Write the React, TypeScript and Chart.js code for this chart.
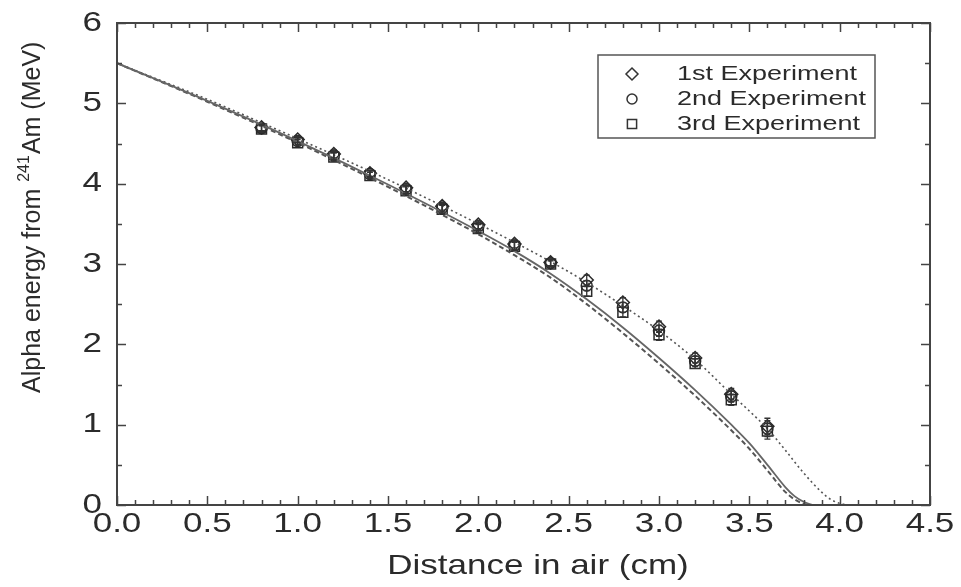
import { useEffect, useRef } from "react";
import { Chart, registerables } from "chart.js";

Chart.register(...registerables);

// ---- data ----
const distances = [0.8, 1.0, 1.2, 1.4, 1.6, 1.8, 2.0, 2.2, 2.4, 2.6, 2.8, 3.0, 3.2, 3.4, 3.6];
const exp1 = [4.70, 4.55, 4.37, 4.13, 3.95, 3.72, 3.49, 3.25, 3.02, 2.80, 2.52, 2.22, 1.83, 1.38, 0.98];
const exp2 = [4.69, 4.53, 4.35, 4.12, 3.93, 3.70, 3.47, 3.23, 3.01, 2.73, 2.46, 2.17, 1.79, 1.35, 0.95];
const exp3 = [4.68, 4.51, 4.33, 4.10, 3.91, 3.68, 3.44, 3.22, 3.00, 2.66, 2.40, 2.12, 1.76, 1.31, 0.92];
const errors = [0.04, 0.04, 0.05, 0.04, 0.05, 0.05, 0.05, 0.05, 0.04, 0.06, 0.06, 0.07, 0.06, 0.07, 0.1];

const solidX = [0, 0.5, 1.0, 1.5, 2.0, 2.2, 2.4, 2.6, 2.8, 3.0, 3.2, 3.4, 3.5, 3.6, 3.7, 3.75, 3.8, 3.85];
const solidY = [5.5, 5.03, 4.53, 3.99, 3.41, 3.16, 2.88, 2.56, 2.21, 1.83, 1.43, 1.0, 0.77, 0.5, 0.22, 0.11, 0.04, 0.0];

const dashedX = [0, 0.5, 1.0, 1.5, 2.0, 2.2, 2.4, 2.6, 2.8, 3.0, 3.2, 3.4, 3.5, 3.6, 3.7, 3.75, 3.8, 3.83];
const dashedY = [5.5, 5.02, 4.51, 3.96, 3.37, 3.11, 2.83, 2.5, 2.14, 1.76, 1.36, 0.93, 0.7, 0.43, 0.16, 0.07, 0.015, 0.0];

const dottedX = [0, 0.5, 1.0, 1.5, 2.0, 2.2, 2.4, 2.6, 2.8, 3.0, 3.2, 3.4, 3.5, 3.6, 3.7, 3.8, 3.9, 3.95, 4.0, 4.04];
const dottedY = [5.5, 5.05, 4.56, 4.05, 3.5, 3.27, 3.03, 2.77, 2.48, 2.17, 1.81, 1.38, 1.17, 0.95, 0.68, 0.4, 0.16, 0.07, 0.02, 0.0];

const xLabelValues = [0, 0.5, 1.0, 1.5, 2.0, 2.5, 3.0, 3.5, 4.0, 4.5];
const yLabelValues = [0, 1, 2, 3, 4, 5, 6];
const legendLabels = ["1st Experiment", "2nd Experiment", "3rd Experiment"];
const legendStyles = ["rectRot", "circle", "rect"];

const xTitle = "Distance in air (cm)";
const yTitleParts = ["Alpha energy from ", "241", "Am (MeV)"];

const toPts = (xs: number[], ys: number[]) => xs.map((x, i) => ({ x, y: ys[i] }));

const FONT = "'Liberation Sans', Arial, Helvetica, sans-serif";
const TEXT = "#2b2b2b";
const AXIS = "#444";

function stretchText(ctx: CanvasRenderingContext2D, text: string, x: number, y: number, sx: number, align: CanvasTextAlign) {
  ctx.save();
  ctx.translate(x, y);
  ctx.scale(sx, 1);
  ctx.textAlign = align;
  ctx.fillText(text, 0, 0);
  ctx.restore();
}

function drawMarker(ctx: CanvasRenderingContext2D, style: string, x: number, y: number, r: number) {
  ctx.beginPath();
  if (style === "circle") {
    ctx.arc(x, y, r, 0, Math.PI * 2);
  } else if (style === "rect") {
    const s = r * Math.SQRT1_2;
    ctx.rect(x - s, y - s, 2 * s, 2 * s);
  } else {
    ctx.moveTo(x, y - r);
    ctx.lineTo(x + r, y);
    ctx.lineTo(x, y + r);
    ctx.lineTo(x - r, y);
    ctx.closePath();
  }
  ctx.stroke();
}

const decorPlugin = {
  id: "decor",
  afterDatasetsDraw(chart: any) {
    const { ctx, chartArea } = chart;
    const xs = chart.scales.x;
    const ys = chart.scales.y;
    const { left, right, top, bottom } = chartArea;

    // error bars
    ctx.save();
    ctx.strokeStyle = "#333";
    ctx.lineWidth = 1.3;
    [exp1, exp2, exp3].forEach((series) => {
      series.forEach((v, i) => {
        const px = xs.getPixelForValue(distances[i]);
        const y1 = ys.getPixelForValue(v + errors[i]);
        const y2 = ys.getPixelForValue(v - errors[i]);
        ctx.beginPath();
        ctx.moveTo(px, y1);
        ctx.lineTo(px, y2);
        ctx.moveTo(px - 3, y1);
        ctx.lineTo(px + 3, y1);
        ctx.moveTo(px - 3, y2);
        ctx.lineTo(px + 3, y2);
        ctx.stroke();
      });
    });
    ctx.restore();

    // frame
    ctx.save();
    ctx.strokeStyle = AXIS;
    ctx.lineWidth = 2;
    ctx.strokeRect(left, top, right - left, bottom - top);

    // ticks (inward, all sides)
    ctx.lineWidth = 1.5;
    ctx.beginPath();
    xs.ticks.forEach((t: any) => {
      const v = t.value;
      const major = Math.abs(v / 0.5 - Math.round(v / 0.5)) < 1e-6;
      const len = major ? 9 : 5;
      const px = Math.round(xs.getPixelForValue(v)) + 0.5;
      ctx.moveTo(px, bottom);
      ctx.lineTo(px, bottom - len);
      ctx.moveTo(px, top);
      ctx.lineTo(px, top + len);
    });
    ys.ticks.forEach((t: any) => {
      const v = t.value;
      const major = Math.abs(v - Math.round(v)) < 1e-6;
      const len = major ? 9 : 5;
      const py = Math.round(ys.getPixelForValue(v)) + 0.5;
      ctx.moveTo(left, py);
      ctx.lineTo(left + len, py);
      ctx.moveTo(right, py);
      ctx.lineTo(right - len, py);
    });
    ctx.stroke();
    ctx.restore();

    // tick labels
    ctx.save();
    ctx.fillStyle = TEXT;
    ctx.textBaseline = "middle";
    ctx.font = `28px ${FONT}`;
    xLabelValues.forEach((v) => {
      stretchText(ctx, v.toFixed(1), xs.getPixelForValue(v), bottom + 19, 1.25, "center");
    });
    yLabelValues.forEach((v) => {
      stretchText(ctx, String(v), left - 15, ys.getPixelForValue(v), 1.25, "right");
    });

    // x title
    ctx.font = `28px ${FONT}`;
    stretchText(ctx, xTitle, 538, 566, 1.25, "center");

    // y title (rotated, with superscript)
    ctx.save();
    ctx.translate(40, 393);
    ctx.rotate(-Math.PI / 2);
    ctx.textAlign = "left";
    ctx.textBaseline = "alphabetic";
    ctx.font = `25px ${FONT}`;
    let cx = 0;
    ctx.fillText(yTitleParts[0], cx, 0);
    cx += ctx.measureText(yTitleParts[0]).width;
    ctx.font = `16px ${FONT}`;
    ctx.fillText(yTitleParts[1], cx, -11);
    cx += ctx.measureText(yTitleParts[1]).width + 1;
    ctx.font = `25px ${FONT}`;
    ctx.fillText(yTitleParts[2], cx, 0);
    ctx.restore();

    // legend
    ctx.strokeStyle = "#555";
    ctx.lineWidth = 1.5;
    ctx.strokeRect(598, 55, 277, 83);
    ctx.font = `20px ${FONT}`;
    ctx.textBaseline = "middle";
    legendLabels.forEach((lab, i) => {
      const y = 74 + i * 25;
      ctx.strokeStyle = "#333";
      ctx.lineWidth = 1.5;
      const r = legendStyles[i] === "circle" ? 5 : legendStyles[i] === "rect" ? 6.5 : 6;
      drawMarker(ctx, legendStyles[i], 632, y, r);
      stretchText(ctx, lab, 677, y, 1.35, "left");
    });
    ctx.restore();
  },
};

export default function App() {
  const canvasRef = useRef<HTMLCanvasElement | null>(null);

  useEffect(() => {
    document.body.style.margin = "0";
    const canvas = canvasRef.current;
    if (!canvas) return;

    const pointBase = {
      showLine: false,
      borderColor: "#2a2a2a",
      backgroundColor: "rgba(0,0,0,0)",
      borderWidth: 1.5,
    };
    const lineBase = {
      showLine: true,
      pointRadius: 0,
      fill: false,
      cubicInterpolationMode: "monotone" as const,
    };

    const chart = new Chart(canvas, {
      type: "scatter",
      data: {
        datasets: [
          { ...lineBase, label: "solid", data: toPts(solidX, solidY), borderColor: "#666", borderWidth: 1.8 },
          { ...lineBase, label: "dashed", data: toPts(dashedX, dashedY), borderColor: "#555", borderWidth: 2, borderDash: [5, 3] },
          { ...lineBase, label: "dotted", data: toPts(dottedX, dottedY), borderColor: "#555", borderWidth: 1.6, borderDash: [2, 3] },
          { ...pointBase, label: legendLabels[0], data: toPts(distances, exp1), pointStyle: "rectRot", pointRadius: 6.5 },
          { ...pointBase, label: legendLabels[1], data: toPts(distances, exp2), pointStyle: "circle", pointRadius: 5.5 },
          { ...pointBase, label: legendLabels[2], data: toPts(distances, exp3), pointStyle: "rect", pointRadius: 7 },
        ],
      },
      options: {
        animation: false,
        responsive: true,
        maintainAspectRatio: false,
        layout: { padding: { top: 23, right: 31, left: 0, bottom: 0 } },
        plugins: { legend: { display: false }, tooltip: { enabled: false } },
        scales: {
          x: {
            type: "linear",
            min: 0,
            max: 4.5,
            ticks: { display: false, stepSize: 0.1 },
            grid: { display: false },
            border: { display: false },
            afterFit: (s: any) => {
              s.height = 82;
            },
          },
          y: {
            type: "linear",
            min: 0,
            max: 6,
            ticks: { display: false, stepSize: 0.5 },
            grid: { display: false },
            border: { display: false },
            afterFit: (s: any) => {
              s.width = 117;
            },
          },
        },
      },
      plugins: [decorPlugin],
    });

    return () => chart.destroy();
  }, []);

  return (
    <div style={{ width: 961, height: 587, position: "relative", background: "#fff" }}>
      <canvas ref={canvasRef} />
    </div>
  );
}
